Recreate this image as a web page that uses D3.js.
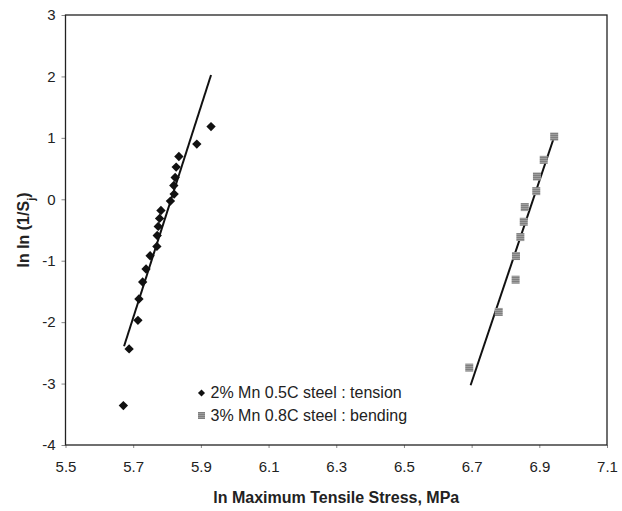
<!DOCTYPE html>
<html>
<head>
<meta charset="utf-8">
<title>Weibull plot</title>
<script src="https://d3js.org/d3.v7.min.js"></script>
<style>
  body { margin: 0; background: #fff; }
  text { font-family: "Liberation Sans", Arial, sans-serif; }
</style>
</head>
<body>
<svg id="chart" width="622" height="511"></svg>
<script>
// tension points (2% Mn 0.5C steel)
var tensionX = [5.930, 5.888, 5.835, 5.827, 5.824, 5.820, 5.821, 5.810, 5.782, 5.778,
                5.774, 5.771, 5.770, 5.750, 5.738, 5.728, 5.717, 5.714, 5.688, 5.671];
var tensionY = [1.184, 0.898, 0.696, 0.524, 0.354, 0.224, 0.085, -0.029, -0.182, -0.312,
                -0.442, -0.589, -0.767, -0.919, -1.135, -1.346, -1.623, -1.971, -2.436, -3.358];
// bending points (3% Mn 0.8C steel)
var bendingX = [6.944, 6.913, 6.893, 6.891, 6.857, 6.854, 6.844, 6.831, 6.830, 6.780, 6.693];
var bendingY = [1.021, 0.642, 0.371, 0.133, -0.127, -0.366, -0.615, -0.924, -1.309, -1.834, -2.740];
// fitted lines, end points
var tensionFitX = [5.673, 5.930];
var tensionFitY = [-2.393, 2.024];
var bendingFitX = [6.697, 6.946];
var bendingFitY = [-3.028, 1.05];

var xTicks = [5.5, 5.7, 5.9, 6.1, 6.3, 6.5, 6.7, 6.9, 7.1];
var yTicks = [-4, -3, -2, -1, 0, 1, 2, 3];
var legendLabels = ["2% Mn 0.5C steel : tension", "3% Mn 0.8C steel : bending"];

var margin = {top: 15, right: 15, bottom: 66, left: 65.5},
    width = 622 - margin.left - margin.right,
    height = 511 - margin.top - margin.bottom;

var svg = d3.select("#chart");

// checkered fill for the bending squares
var defs = svg.append("defs");
var pat = defs.append("pattern")
    .attr("id", "checker")
    .attr("width", 2).attr("height", 2)
    .attr("patternUnits", "userSpaceOnUse");
pat.append("rect").attr("width", 2).attr("height", 2).attr("fill", "#c4c4c4");
pat.append("rect").attr("width", 1).attr("height", 1).attr("fill", "#3a3a3a");
pat.append("rect").attr("x", 1).attr("y", 1).attr("width", 1).attr("height", 1).attr("fill", "#777");

var g = svg.append("g")
    .attr("transform", "translate(" + margin.left + "," + margin.top + ")");

var x = d3.scaleLinear().domain([5.5, 7.1]).range([0, width]);
var y = d3.scaleLinear().domain([-4, 3]).range([height, 0]);

// axes
var xAxis = g.append("g")
    .attr("transform", "translate(0," + height + ")")
    .call(d3.axisBottom(x).tickValues(xTicks).tickSize(3).tickPadding(13)
          .tickFormat(function(d) { return d.toFixed(1); }));
var yAxis = g.append("g")
    .call(d3.axisLeft(y).tickValues(yTicks).tickSize(4).tickPadding(6)
          .tickFormat(function(d) { return String(d); }));

[xAxis, yAxis].forEach(function(a) {
    a.select(".domain").remove();
    a.selectAll(".tick line").attr("stroke", "#888");
    a.selectAll(".tick text")
        .style("font-size", "15px")
        .style("font-family", "'Liberation Sans', Arial, sans-serif")
        .attr("fill", "#222");
});

// frame
g.append("rect")
    .attr("x", 0).attr("y", 0)
    .attr("width", width).attr("height", height)
    .attr("fill", "none")
    .attr("stroke", "#222")
    .attr("stroke-width", 1.3);

// fit lines
var line = d3.line()
    .x(function(d) { return x(d[0]); })
    .y(function(d) { return y(d[1]); });

g.append("path")
    .datum(d3.zip(tensionFitX, tensionFitY))
    .attr("d", line)
    .attr("fill", "none").attr("stroke", "#111").attr("stroke-width", 2);
g.append("path")
    .datum(d3.zip(bendingFitX, bendingFitY))
    .attr("d", line)
    .attr("fill", "none").attr("stroke", "#111").attr("stroke-width", 2);

// tension diamonds (square turned 45 degrees)
g.append("g").selectAll("rect")
    .data(d3.zip(tensionX, tensionY))
    .enter().append("rect")
    .attr("x", -3.3).attr("y", -3.3)
    .attr("width", 6.6).attr("height", 6.6)
    .attr("transform", function(d) {
        return "translate(" + x(d[0]) + "," + y(d[1]) + ")rotate(45)";
    })
    .attr("fill", "#111");

// bending squares
g.append("g").selectAll("rect")
    .data(d3.zip(bendingX, bendingY))
    .enter().append("rect")
    .attr("x", function(d) { return x(d[0]) - 4; })
    .attr("y", function(d) { return y(d[1]) - 4; })
    .attr("width", 8).attr("height", 8)
    .attr("fill", "url(#checker)");

// legend
var lg = g.append("g").attr("transform", "translate(136,377)");
lg.append("rect")
    .attr("x", -2.5).attr("y", -2.5)
    .attr("width", 5).attr("height", 5)
    .attr("transform", "translate(0,1)rotate(45)")
    .attr("fill", "#111");
lg.append("rect")
    .attr("x", -3.5).attr("y", 20)
    .attr("width", 7).attr("height", 7)
    .attr("fill", "url(#checker)");
lg.selectAll("text.leg")
    .data(legendLabels)
    .enter().append("text")
    .attr("class", "leg")
    .attr("x", 9)
    .attr("y", function(d, i) { return 6 + i * 23; })
    .style("font-size", "16px")
    .attr("fill", "#222")
    .text(function(d) { return d; });

// axis titles
svg.append("text")
    .attr("x", margin.left + width / 2)
    .attr("y", 503)
    .attr("text-anchor", "middle")
    .style("font-size", "16px")
    .style("font-weight", "bold")
    .attr("fill", "#222")
    .text("ln Maximum Tensile Stress, MPa");

var yt = svg.append("text")
    .attr("transform", "translate(29," + (margin.top + height / 2) + ")rotate(-90)")
    .attr("text-anchor", "middle")
    .style("font-size", "16px")
    .style("font-weight", "bold")
    .attr("fill", "#222");
yt.append("tspan").text("ln ln (1/S");
yt.append("tspan").attr("baseline-shift", "sub").style("font-size", "11px").text("j");
yt.append("tspan").text(")");
</script>
</body>
</html>
